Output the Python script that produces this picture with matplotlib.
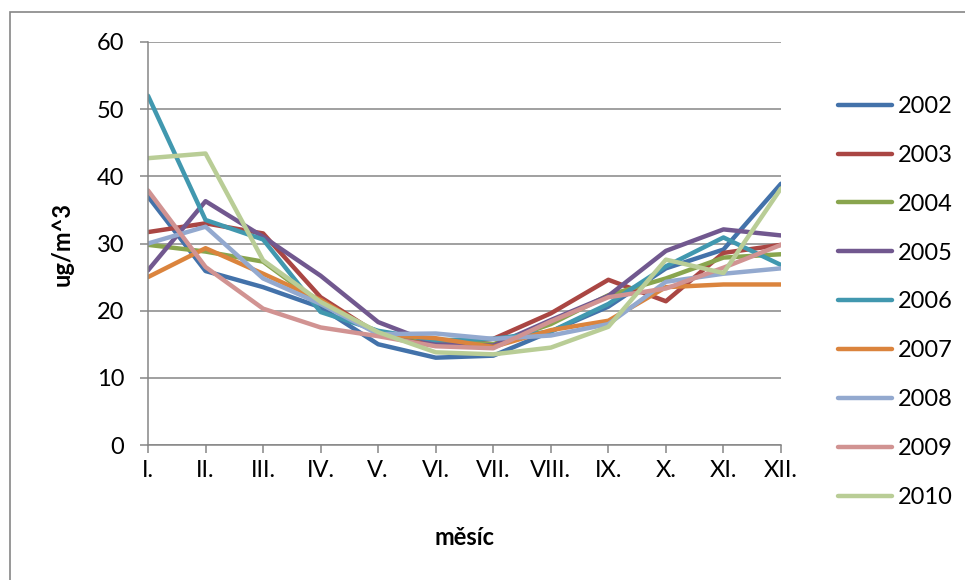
import matplotlib
matplotlib.use("Agg")
from matplotlib import pyplot as plt
from matplotlib.patches import Rectangle

plt.rcParams['font.family'] = ['Lato', 'DejaVu Sans']

# months (Roman numerals) and yearly series in ug/m^3
months = ['I.', 'II.', 'III.', 'IV.', 'V.', 'VI.', 'VII.', 'VIII.', 'IX.', 'X.', 'XI.', 'XII.']
years = ['2002', '2003', '2004', '2005', '2006', '2007', '2008', '2009', '2010']

v2002 = [37.0, 25.9, 23.5, 20.5, 15.0, 13.0, 13.3, 16.9, 20.6, 26.3, 29.1, 38.9]
v2003 = [31.7, 33.0, 31.5, 22.0, 16.5, 15.0, 15.8, 19.6, 24.6, 21.4, 28.6, 29.8]
v2004 = [29.8, 28.8, 27.3, 21.0, 16.8, 15.5, 15.0, 18.0, 22.3, 24.8, 27.9, 28.4]
v2005 = [26.0, 36.3, 31.0, 25.2, 18.3, 15.0, 14.8, 18.6, 22.2, 28.9, 32.1, 31.2]
v2006 = [52.0, 33.5, 30.6, 19.8, 17.0, 15.6, 15.8, 16.9, 21.0, 26.6, 30.9, 26.8]
v2007 = [25.0, 29.3, 25.5, 21.6, 16.5, 15.9, 14.6, 17.1, 18.5, 23.5, 23.9, 23.9]
v2008 = [30.0, 32.5, 24.8, 21.0, 16.5, 16.6, 15.8, 16.3, 18.0, 24.3, 25.5, 26.3]
v2009 = [37.9, 26.5, 20.3, 17.5, 16.2, 14.7, 14.4, 18.4, 22.0, 23.3, 26.4, 29.8]
v2010 = [42.7, 43.4, 27.5, 21.3, 16.8, 13.8, 13.5, 14.5, 17.6, 27.6, 25.6, 38.2]

series = [v2002, v2003, v2004, v2005, v2006, v2007, v2008, v2009, v2010]
colors = ['#4372AA', '#AA4643', '#89A54E', '#71588F', '#4198AF',
          '#DB843D', '#93A9CF', '#D19392', '#B9CD96']

grey = '#868686'
fs = 17

fig = plt.figure(figsize=(9.65, 5.8), dpi=100)
ax = fig.add_axes([148/965, 1 - 445/580, 633/965, 403/580])

x = range(len(months))
for name, vals, c in zip(years, series, colors):
    ax.plot(x, vals, color=c, lw=3.2, label=name,
            solid_joinstyle='round', solid_capstyle='round')

ax.set_xlim(0, len(months) - 1)
ax.set_ylim(0, 60)
ax.set_yticks(range(0, 61, 10))
ax.set_xticks(list(x), labels=months)
ax.grid(axis='y', color=grey, lw=1.1)
ax.set_axisbelow(True)

for s in ['top', 'right']:
    ax.spines[s].set_visible(False)
for s in ['left', 'bottom']:
    ax.spines[s].set_color(grey)
    ax.spines[s].set_linewidth(1.1)

ax.tick_params(axis='both', direction='out', length=6, width=1.1, color=grey,
               labelsize=fs, labelcolor='black')
ax.tick_params(axis='y', pad=11)
ax.tick_params(axis='x', pad=5)

ax.set_ylabel('ug/m^3', fontsize=fs, fontweight='bold')
ax.yaxis.set_label_coords(-0.118, 0.5)
ax.set_xlabel('měsíc', fontsize=fs, fontweight='bold')
ax.xaxis.set_label_coords(0.5, -0.2)

leg = ax.legend(loc='upper left', bbox_to_anchor=(838/965, 1 - 96/580),
                bbox_transform=fig.transFigure, frameon=False, fontsize=fs,
                borderpad=0, borderaxespad=0, handlelength=2.3,
                handletextpad=0.22, labelspacing=1.18)

# outer chart-area border (only top and left visible in the crop)
fig.add_artist(Rectangle((10/965, -0.2), 1.2, 1.2 - 12/580,
                         transform=fig.transFigure, fill=False,
                         edgecolor=grey, lw=1.2))

fig.savefig('out.png', dpi=100)
